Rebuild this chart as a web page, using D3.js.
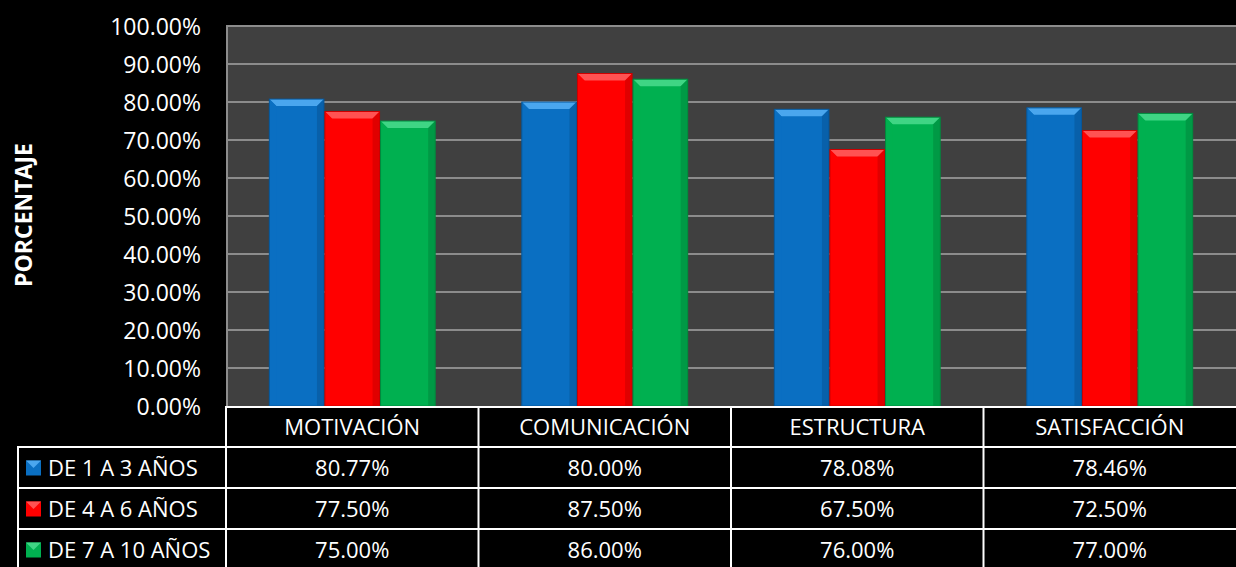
<!DOCTYPE html>
<html><head><meta charset="utf-8">
<script src="https://cdn.jsdelivr.net/npm/d3@7"></script>
<style>html,body{margin:0;padding:0;background:#000;}svg{display:block;}</style>
</head><body>
<svg id="c" width="1236" height="567"></svg>
<script>
const categories = ["MOTIVACIÓN","COMUNICACIÓN","ESTRUCTURA","SATISFACCIÓN"];
const seriesNames = ["DE 1 A 3 AÑOS","DE 4 A 6 AÑOS","DE 7 A 10 AÑOS"];
const serie1 = [80.77, 80.00, 78.08, 78.46];
const serie2 = [77.50, 87.50, 67.50, 72.50];
const serie3 = [75.00, 86.00, 76.00, 77.00];
const yTicks = [0,10,20,30,40,50,60,70,80,90,100];
const colors = ["#0a6fc2","#ff0000","#00b050"];
const lightC = ["#4aa6ee","#ff5252","#3fd584"];
const darkC = ["#07579a","#cc0000","#008a3e"];

const seriesValues = [serie1, serie2, serie3];
const svg = d3.select("#c");
const font = "'Open Sans', sans-serif";
const L = 226, R = 1236, T = 26, B = 406;

svg.append("rect").attr("x",L).attr("y",T).attr("width",R-L).attr("height",B-T).attr("fill","#404040");

const x0 = d3.scaleBand().domain(categories).range([L,R]).paddingInner(0).paddingOuter(0);
const x1 = d3.scaleBand().domain(seriesNames).range([0,x0.bandwidth()]).paddingOuter(0.77).paddingInner(0.0);
const y = d3.scaleLinear().domain([0,100]).range([B,T]);

// gridlines
svg.append("g").selectAll("line").data(yTicks.filter(d=>d>0)).join("line")
  .attr("x1",L).attr("x2",R).attr("y1",d=>y(d)).attr("y2",d=>y(d))
  .attr("stroke","#8c8c8c").attr("stroke-width",2);
svg.append("line").attr("x1",L+1).attr("x2",L+1).attr("y1",T).attr("y2",B).attr("stroke","#8c8c8c").attr("stroke-width",2);

// y tick labels
const yAxis = d3.axisLeft(y).tickValues(yTicks).tickFormat(d=>d.toFixed(2)+"%").tickSize(0).tickPadding(0);
const ga = svg.append("g").attr("transform",`translate(${L-25},0)`).call(yAxis);
ga.select(".domain").remove();
ga.selectAll("text").attr("fill","#fff").style("font-family",font).style("font-size","23px").attr("dy","0.35em");

// y title
svg.append("text").attr("transform",`translate(32,${(T+B)/2 - 1}) rotate(-90)`).attr("text-anchor","middle")
  .attr("fill","#fff").style("font-family",font).style("font-weight","bold").style("font-size","23px").text("PORCENTAJE");

// bars with bevel
const bev = 7;
seriesNames.forEach((s,si)=>{
  const g = svg.append("g");
  categories.forEach((c,ci)=>{
    const v = seriesValues[si][ci];
    const bx = x0(c)+x1(s)+0.5, bw = x1.bandwidth()-1, by = y(v), bh = B-by;
    g.append("rect").attr("x",bx).attr("y",by).attr("width",bw).attr("height",bh).attr("fill",colors[si]);
    g.append("polygon").attr("points",[[bx,by],[bx+bw,by],[bx+bw-bev,by+bev],[bx+bev,by+bev]].map(p=>p.join(",")).join(" ")).attr("fill",lightC[si]);
    g.append("polygon").attr("points",[[bx,by],[bx+bev,by+bev],[bx+bev,B],[bx,B]].map(p=>p.join(",")).join(" ")).attr("fill",colors[si]).attr("opacity",0.9);
    g.append("polygon").attr("points",[[bx+bw,by],[bx+bw-bev,by+bev],[bx+bw-bev,B],[bx+bw,B]].map(p=>p.join(",")).join(" ")).attr("fill",darkC[si]).attr("opacity",0.6);
    g.append("rect").attr("x",bx).attr("y",by).attr("width",bw).attr("height",bh).attr("fill","none").attr("stroke",darkC[si]).attr("stroke-width",1);
  });
});

// data table
const rowH = 41;
const tbl = svg.append("g");
const lineC = "#ffffff";
tbl.append("rect").attr("x",L).attr("y",B).attr("width",R-L).attr("height",rowH).attr("fill","#000");
tbl.append("rect").attr("x",17).attr("y",B+rowH).attr("width",R-17).attr("height",567-B-rowH).attr("fill","#000");
tbl.append("line").attr("x1",L).attr("x2",R).attr("y1",B+1).attr("y2",B+1).attr("stroke",lineC).attr("stroke-width",2);
[1,2,3].forEach(k=>{
  tbl.append("line").attr("x1",17).attr("x2",R).attr("y1",B+rowH*k).attr("y2",B+rowH*k).attr("stroke",lineC).attr("stroke-width",2);
});
tbl.append("line").attr("x1",18).attr("x2",18).attr("y1",B+rowH).attr("y2",567).attr("stroke",lineC).attr("stroke-width",2);
categories.forEach(c=>{
  tbl.append("line").attr("x1",x0(c)).attr("x2",x0(c)).attr("y1",B).attr("y2",567).attr("stroke",lineC).attr("stroke-width",2);
});

tbl.selectAll("text.h").data(categories).join("text").attr("class","h")
  .attr("x",d=>x0(d)+x0.bandwidth()/2).attr("y",B+rowH/2+1).attr("dy","0.35em").attr("text-anchor","middle")
  .attr("fill","#fff").style("font-family",font).style("font-size","22px").text(d=>d);

seriesNames.forEach((s,si)=>{
  const cy = B+rowH*(si+1)+rowH/2+1;
  const kx=26, ky=cy-8, ks=15;
  tbl.append("rect").attr("x",kx).attr("y",ky).attr("width",ks).attr("height",ks).attr("fill",colors[si]);
  tbl.append("polygon").attr("points",[[kx,ky],[kx+ks,ky],[kx+ks/2,ky+ks/2]].map(p=>p.join(",")).join(" ")).attr("fill",lightC[si]);
  tbl.append("text").attr("x",48).attr("y",cy).attr("dy","0.35em").attr("fill","#fff")
    .style("font-family",font).style("font-size","22px").text(s);
  categories.forEach((c,ci)=>{
    tbl.append("text").attr("x",x0(c)+x0.bandwidth()/2).attr("y",cy).attr("dy","0.35em").attr("text-anchor","middle")
      .attr("fill","#fff").style("font-family",font).style("font-size","22px").text(seriesValues[si][ci].toFixed(2)+"%");
  });
});
</script>
</body></html>
